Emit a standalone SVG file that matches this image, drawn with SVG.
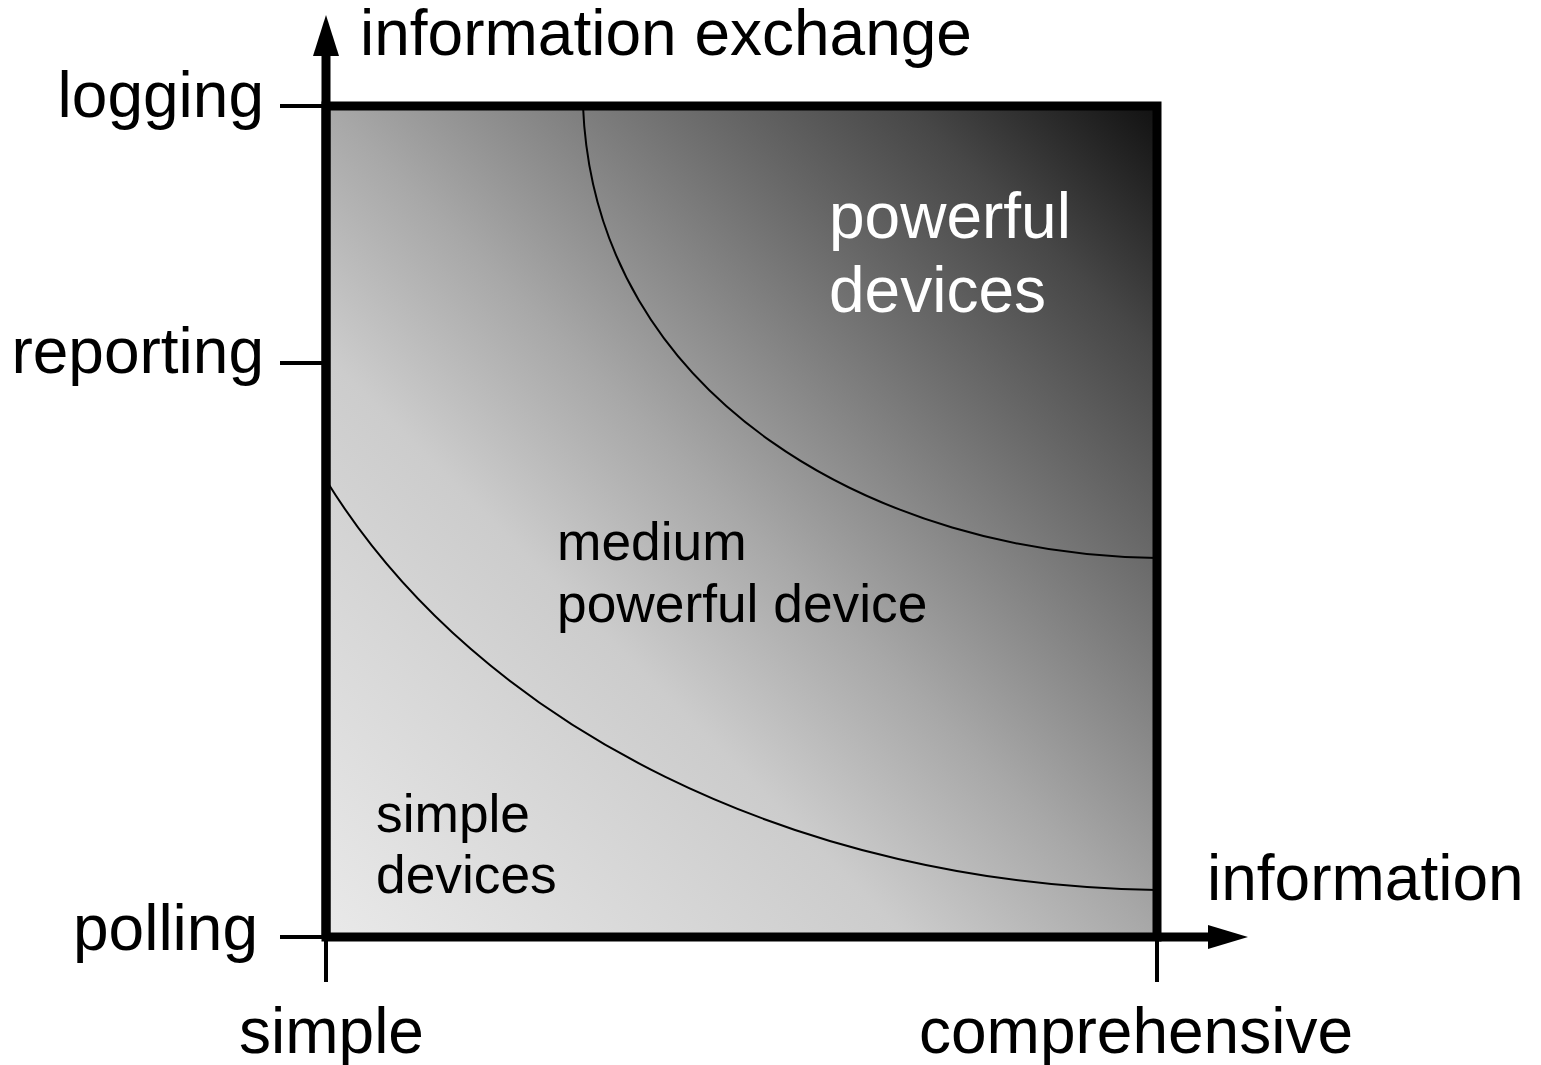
<svg xmlns="http://www.w3.org/2000/svg" width="1541" height="1065" viewBox="0 0 1541 1065">
  <style>
    .lbl { font-family: "Liberation Sans", Arial, sans-serif; font-size: 64px; fill: #000; }
    .mid { font-family: "Liberation Sans", Arial, sans-serif; font-size: 53.3px; fill: #000; }
    .wht { font-family: "Liberation Sans", Arial, sans-serif; font-size: 64px; fill: #fff; }
    .tick { stroke: #000; stroke-width: 4; fill: none; }
    .axis { stroke: #000; stroke-width: 9; fill: none; }
    .curve { stroke: #000; stroke-width: 2; fill: none; }
  </style>
  <defs>
    <linearGradient id="bg" gradientUnits="userSpaceOnUse" x1="326" y1="937" x2="1157" y2="106">
      <stop offset="0" stop-color="#e9e9e9"/>
      <stop offset="0.35" stop-color="#cccccc"/>
      <stop offset="0.5" stop-color="#a8a8a8"/>
      <stop offset="0.7" stop-color="#707070"/>
      <stop offset="0.85" stop-color="#474747"/>
      <stop offset="1" stop-color="#111111"/>
    </linearGradient>
  </defs>

  <g id="plane">
    <rect x="326" y="106" width="831" height="831" fill="url(#bg)"/>
    <path class="curve" d="M583,106 C595,400 880,555 1157,558"/>
    <path class="curve" d="M326,480 C480,730 800,885 1157,890"/>
    <rect x="326" y="106" width="831" height="831" fill="none" stroke="#000" stroke-width="9"/>
  </g>

  <g id="connectors">
    <line class="tick" x1="280" y1="106" x2="326" y2="106"/>
    <line class="tick" x1="280" y1="363" x2="326" y2="363"/>
    <line class="tick" x1="280" y1="937" x2="326" y2="937"/>
    <line class="tick" x1="326" y1="937" x2="326" y2="982"/>
    <line class="tick" x1="1157" y1="937" x2="1157" y2="982"/>
    <line class="axis" x1="326" y1="937" x2="326" y2="54"/>
    <polygon points="313,56 339,56 326,15" fill="#000"/>
    <line class="axis" x1="1157" y1="937" x2="1210" y2="937"/>
    <polygon points="1208,925 1208,949 1248,937" fill="#000"/>
  </g>

  <g id="axis-labels">
    <text class="lbl" x="360" y="55">information exchange</text>
    <text class="lbl" x="264" y="117" text-anchor="end">logging</text>
    <text class="lbl" x="264" y="373" text-anchor="end">reporting</text>
    <text class="lbl" x="258" y="950" text-anchor="end">polling</text>
    <text class="lbl" x="1207" y="900">information</text>
    <text class="lbl" x="239" y="1053">simple</text>
    <text class="lbl" x="919" y="1053">comprehensive</text>
  </g>

  <g id="powerful">
    <text class="wht" x="829" y="238">powerful</text>
    <text class="wht" x="829" y="312">devices</text>
  </g>
  <g id="medium">
    <text class="mid" x="557" y="560">medium</text>
    <text class="mid" x="557" y="622">powerful device</text>
  </g>
  <g id="simple">
    <text class="mid" x="376" y="832">simple</text>
    <text class="mid" x="376" y="893">devices</text>
  </g>
</svg>
